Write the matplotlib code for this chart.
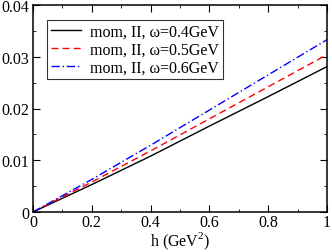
import matplotlib
matplotlib.use("Agg")
import matplotlib.pyplot as plt
import numpy as np
from matplotlib.ticker import MultipleLocator

plt.rcParams['font.family'] = ['Liberation Serif', 'DejaVu Serif']
plt.rcParams['mathtext.fontset'] = 'custom'
plt.rcParams['mathtext.rm'] = 'Liberation Serif'

h = [0.0, 0.2, 0.4, 0.6, 0.8, 1.0]
w04 = [0.0, 0.0053, 0.0108, 0.0166, 0.0223, 0.0281]
w05 = [0.0, 0.0058, 0.0118, 0.0180, 0.0242, 0.0304]
w06 = [0.0, 0.0063, 0.0129, 0.0197, 0.0265, 0.0333]
labels = ["mom, II, ω=0.4GeV", "mom, II, ω=0.5GeV", "mom, II, ω=0.6GeV"]
xticks = [0, 0.2, 0.4, 0.6, 0.8, 1.0]
xticklabels = ["0", "0.2", "0.4", "0.6", "0.8", "1"]
yticks = [0, 0.01, 0.02, 0.03, 0.04]
yticklabels = ["0", "0.01", "0.02", "0.03", "0.04"]

fig = plt.figure(figsize=(3.32, 2.53), dpi=100)
ax = fig.add_axes([33/332, 1-213/253, 294/332, 207/253])
ax.plot(h, w04, color='black', lw=1.0, label=labels[0])
ax.plot(h, w05, color='red', lw=1.0, ls=(0, (5, 3)), label=labels[1])
ax.plot(h, w06, color='blue', lw=1.0, ls=(0, (6, 2, 1, 2)), label=labels[2])
ax.set_xlim(0, 1)
ax.set_ylim(0, 0.04)
ax.set_xticks(xticks)
ax.set_xticklabels(xticklabels)
ax.set_yticks(yticks)
ax.set_yticklabels(yticklabels)
ax.xaxis.set_minor_locator(MultipleLocator(0.1))
ax.yaxis.set_minor_locator(MultipleLocator(0.005))
ax.tick_params(which='both', direction='in', top=True, right=True, labelsize=11.5)
ax.tick_params(axis='x', which='major', pad=1.5)
ax.tick_params(axis='y', which='major', pad=2.5)
ax.tick_params(which='major', length=5)
ax.tick_params(which='minor', length=2.5)
for s in ax.spines.values():
    s.set_linewidth(1.1)
ax.set_xlabel("h (GeV$^2$)", fontsize=11.5, labelpad=0)
leg = ax.legend(loc='upper left', bbox_to_anchor=(14/294, 1-15/207), fontsize=11.5, frameon=True,
                fancybox=False, edgecolor='black', handlelength=1.9, borderpad=0.25,
                labelspacing=0.1, handletextpad=0.55, borderaxespad=0)
leg.get_frame().set_linewidth(0.8)
fig.savefig("out.png", dpi=100)
